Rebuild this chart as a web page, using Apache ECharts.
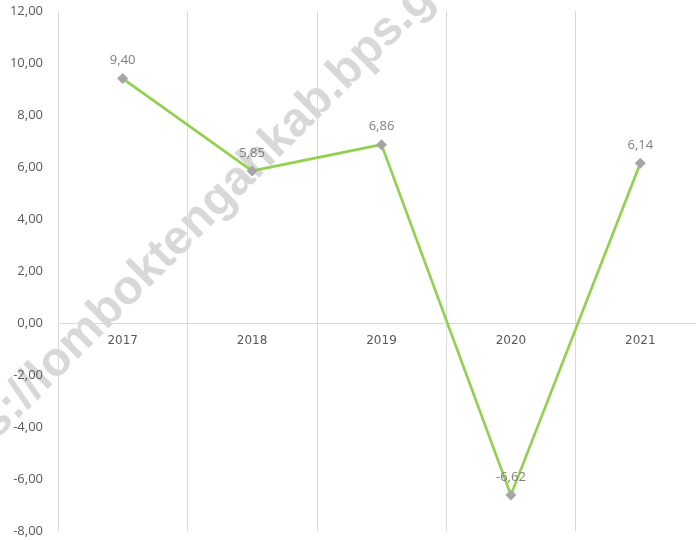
<!DOCTYPE html>
<html>
<head>
<meta charset="utf-8">
<script src="https://cdn.jsdelivr.net/npm/echarts@6/dist/echarts.min.js"></script>
<style>
  html, body { margin: 0; padding: 0; background: #fff; }
  #chart { width: 696px; height: 540px; }
</style>
</head>
<body>
<div id="chart"></div>
<script>
const years = ['2017', '2018', '2019', '2020', '2021']
const growth = [9.40, 5.85, 6.86, -6.62, 6.14]
const yTicks = { min: -8, max: 12, interval: 2 }
const watermark = 'https://lomboktengahkab.bps.go.id'

const fmt = v => Number(v).toFixed(2).replace('.', ',')
const font = 'Open Sans'

const chart = echarts.init(document.getElementById('chart'))

const option = {
  animation: false,
  grid: {
    left: 58,
    right: -9,
    top: 11,
    bottom: 9,
    outerBoundsMode: 'none'
  },
  graphic: {
    z: -10,
    elements: [{
      type: 'text',
      x: 205,
      y: 213,
      rotation: Math.PI / 4,
      silent: true,
      style: {
        text: watermark,
        font: 'bold 48px "Liberation Sans"',
        fill: 'rgba(200, 200, 200, 0.7)',
        align: 'center',
        verticalAlign: 'middle'
      }
    }]
  },
  xAxis: {
    type: 'category',
    data: years,
    boundaryGap: true,
    axisLine: {
      onZero: false,
      lineStyle: { color: '#d9d9d9', width: 1 }
    },
    axisTick: { show: false },
    axisLabel: {
      color: '#595959',
      fontFamily: 'DejaVu Sans',
      fontSize: 12,
      margin: 12
    },
    splitLine: {
      show: true,
      lineStyle: { color: '#d9d9d9', width: 1 }
    }
  },
  yAxis: {
    type: 'value',
    ...yTicks,
    axisLine: { show: false },
    axisTick: { show: false },
    splitLine: { show: false },
    axisLabel: {
      color: '#595959',
      fontFamily: font,
      fontSize: 13,
      margin: 15,
      formatter: fmt
    }
  },
  series: [{
    type: 'line',
    data: growth,
    z: 3,
    lineStyle: { color: '#92d050', width: 2.7 },
    symbol: 'diamond',
    symbolSize: 11,
    itemStyle: { color: '#a5a5a5' },
    label: {
      show: true,
      position: 'top',
      distance: 6,
      color: '#7f7f7f',
      fontFamily: font,
      fontSize: 13,
      formatter: p => fmt(p.value)
    }
  }]
}

chart.setOption(option)

// move the category axis (line and labels) up to the zero line
const bottomY = chart.convertToPixel({ yAxisIndex: 0 }, yTicks.min)
const zeroY = chart.convertToPixel({ yAxisIndex: 0 }, 0)
chart.setOption({ xAxis: { offset: zeroY - bottomY } })
</script>
</body>
</html>
